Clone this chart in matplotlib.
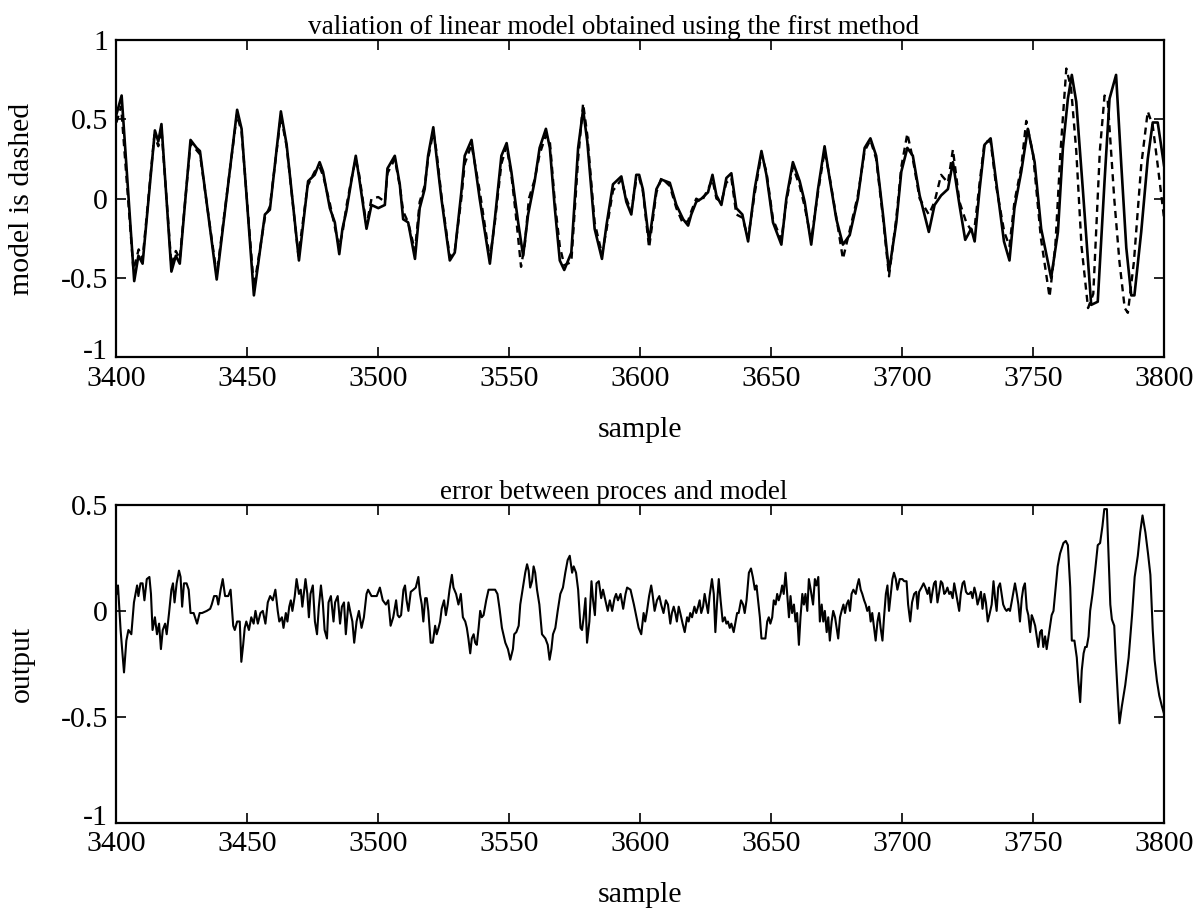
import matplotlib
matplotlib.use("Agg")
import matplotlib.pyplot as plt
import matplotlib.transforms as mtrans

plt.rcParams['font.family'] = ['Liberation Serif', 'DejaVu Serif']
plt.rcParams['axes.unicode_minus'] = False

# process output (solid)
proc_x = [3400.0, 3402.0, 3406.8, 3408.4, 3410.0, 3414.7, 3416.0, 3417.2, 3421.0, 3422.7,
          3424.2, 3428.3, 3430.6, 3431.9, 3438.3, 3446.1, 3447.8, 3452.5, 3456.7, 3458.6,
          3462.8, 3465.0, 3469.7, 3473.2, 3475.7, 3477.6, 3478.9, 3481.5, 3483.4, 3485.1,
          3486.3, 3487.8, 3489.7, 3491.4, 3492.7, 3495.5, 3497.4, 3500.0, 3502.5, 3503.5,
          3506.3, 3508.2, 3509.5, 3511.4, 3514.0, 3515.8, 3517.7, 3519.0, 3521.0, 3522.2,
          3524.1, 3527.3, 3529.2, 3531.7, 3533.0, 3535.6, 3538.7, 3542.6, 3544.5, 3547.0,
          3549.0, 3550.8, 3553.4, 3555.3, 3557.2, 3559.7, 3561.6, 3564.0, 3565.5, 3567.4,
          3569.3, 3571.0, 3573.7, 3576.3, 3578.2, 3579.8, 3582.6, 3585.4, 3587.1, 3589.6,
          3592.8, 3594.7, 3596.6, 3598.5, 3599.6, 3601.0, 3603.4, 3606.2, 3608.1, 3611.3,
          3613.8, 3616.4, 3618.3, 3619.5, 3621.4, 3623.4, 3625.9, 3627.6, 3629.1, 3631.0,
          3632.9, 3634.8, 3636.7, 3639.0, 3641.2, 3643.7, 3646.3, 3648.2, 3650.7, 3653.9,
          3655.8, 3658.3, 3660.9, 3662.8, 3665.3, 3667.9, 3670.4, 3672.3, 3674.9, 3677.4,
          3680.0, 3683.1, 3685.7, 3687.9, 3690.1, 3692.7, 3695.0, 3697.8, 3699.7, 3702.0,
          3704.1, 3706.7, 3710.2, 3712.4, 3714.9, 3717.5, 3719.4, 3721.9, 3724.1, 3726.4,
          3727.7, 3729.6, 3731.5, 3733.8, 3735.9, 3738.9, 3741.0, 3742.9, 3745.5, 3748.0,
          3750.6, 3753.1, 3756.9, 3759.5, 3761.4, 3763.3, 3764.8, 3766.5, 3769.0, 3772.2,
          3774.7, 3777.3, 3779.2, 3781.7, 3783.7, 3785.6, 3787.5, 3788.7, 3791.3, 3793.8,
          3795.7, 3797.6, 3800.0]
proc_y = [0.53, 0.65, -0.52, -0.36, -0.41, 0.43, 0.36, 0.47, -0.46, -0.36,
          -0.41, 0.37, 0.32, 0.30, -0.51, 0.56, 0.44, -0.61, -0.10, -0.07,
          0.55, 0.34, -0.39, 0.11, 0.15, 0.23, 0.17, -0.06, -0.15, -0.35,
          -0.19, -0.08, 0.11, 0.27, 0.13, -0.19, -0.04, -0.06, -0.04, 0.19,
          0.27, 0.09, -0.13, -0.15, -0.38, -0.06, 0.06, 0.27, 0.45, 0.27,
          0.00, -0.39, -0.34, 0.04, 0.27, 0.37, 0.00, -0.41, -0.13, 0.27,
          0.35, 0.17, -0.15, -0.36, -0.10, 0.11, 0.32, 0.44, 0.32, -0.06,
          -0.39, -0.45, -0.34, 0.32, 0.56, 0.36, -0.19, -0.38, -0.17, 0.09,
          0.14, -0.02, -0.10, 0.15, 0.15, 0.06, -0.27, 0.06, 0.12, 0.10,
          -0.04, -0.13, -0.17, -0.10, -0.02, 0.00, 0.04, 0.15, 0.02, -0.04,
          0.13, 0.16, -0.06, -0.10, -0.27, 0.06, 0.30, 0.15, -0.15, -0.29,
          0.00, 0.23, 0.11, -0.02, -0.29, 0.06, 0.33, 0.13, -0.13, -0.29,
          -0.23, 0.00, 0.32, 0.38, 0.27, -0.10, -0.46, -0.15, 0.17, 0.32,
          0.27, 0.02, -0.21, -0.04, 0.02, 0.06, 0.23, -0.04, -0.26, -0.19,
          -0.27, 0.06, 0.34, 0.38, 0.11, -0.27, -0.39, -0.06, 0.17, 0.44,
          0.23, -0.19, -0.50, -0.21, 0.32, 0.63, 0.78, 0.61, 0.06, -0.67,
          -0.65, 0.11, 0.63, 0.78, 0.21, -0.31, -0.61, -0.61, -0.21, 0.25,
          0.48, 0.48, 0.21]

# linear model output (dashed)
model_x = [3400.0, 3401.8, 3406.5, 3408.5, 3410.0, 3414.5, 3416.0, 3417.2, 3421.0, 3422.7,
           3424.2, 3428.3, 3431.9, 3438.3, 3446.0, 3447.8, 3452.5, 3456.7, 3458.6, 3462.8,
           3465.0, 3469.5, 3473.0, 3475.7, 3477.6, 3479.0, 3481.5, 3483.4, 3485.0, 3486.3,
           3487.8, 3489.7, 3491.4, 3492.7, 3495.5, 3497.4, 3500.0, 3502.5, 3503.5, 3506.3,
           3508.2, 3509.5, 3511.4, 3514.0, 3515.8, 3517.7, 3519.0, 3521.0, 3522.2, 3524.1,
           3527.3, 3529.2, 3531.7, 3533.0, 3535.6, 3538.7, 3542.6, 3544.5, 3547.0, 3549.0,
           3550.8, 3552.5, 3554.5, 3556.0, 3557.5, 3559.7, 3561.6, 3564.0, 3565.5, 3567.4,
           3569.3, 3571.0, 3573.7, 3576.3, 3578.2, 3579.8, 3582.6, 3585.4, 3587.1, 3589.6,
           3592.8, 3594.7, 3596.6, 3598.5, 3599.6, 3601.0, 3603.4, 3606.2, 3608.1, 3611.3,
           3613.8, 3616.4, 3618.3, 3619.5, 3621.4, 3623.4, 3625.9, 3627.6, 3629.1, 3631.0,
           3632.9, 3634.8, 3636.7, 3639.0, 3641.2, 3643.7, 3646.3, 3648.2, 3650.7, 3653.9,
           3655.8, 3658.3, 3660.9, 3662.8, 3665.3, 3667.9, 3670.4, 3672.3, 3674.9, 3677.4,
           3680.0, 3683.1, 3685.7, 3687.9, 3690.1, 3692.7, 3695.0, 3697.8, 3699.7, 3702.0,
           3704.1, 3706.7, 3710.2, 3712.4, 3714.9, 3717.5, 3719.4, 3721.9, 3724.5, 3726.4,
           3727.7, 3729.6, 3731.5, 3733.8, 3735.9, 3739.0, 3741.0, 3742.9, 3745.5, 3747.4,
           3750.0, 3753.0, 3756.3, 3758.5, 3760.5, 3762.7, 3764.5, 3766.5, 3768.5, 3771.0,
           3773.0, 3775.5, 3777.3, 3778.5, 3781.0, 3783.0, 3785.0, 3786.2, 3788.5, 3791.3,
           3793.8, 3795.7, 3797.6, 3800.0]
model_y = [0.48, 0.58, -0.45, -0.32, -0.38, 0.40, 0.33, 0.44, -0.42, -0.33,
           -0.38, 0.35, 0.28, -0.48, 0.53, 0.42, -0.56, -0.12, -0.05, 0.52,
           0.33, -0.36, 0.08, 0.17, 0.20, 0.14, -0.03, -0.18, -0.30, -0.22,
           -0.05, 0.12, 0.25, 0.15, -0.17, 0.00, 0.01, -0.02, 0.16, 0.25,
           0.08, -0.08, -0.15, -0.33, -0.02, 0.08, 0.25, 0.42, 0.30, 0.02,
           -0.37, -0.33, 0.00, 0.22, 0.34, 0.05, -0.38, -0.15, 0.22, 0.33,
           0.15, -0.10, -0.43, -0.28, 0.00, 0.12, 0.28, 0.40, 0.36, -0.02,
           -0.30, -0.42, -0.40, 0.25, 0.60, 0.40, -0.15, -0.35, -0.20, 0.05,
           0.12, 0.00, -0.08, 0.12, 0.13, 0.05, -0.31, 0.04, 0.13, 0.08,
           -0.06, -0.16, -0.14, -0.08, 0.00, -0.02, 0.06, 0.12, 0.00, -0.02,
           0.10, 0.13, -0.10, -0.12, -0.25, 0.03, 0.28, 0.17, -0.13, -0.26,
           -0.02, 0.20, 0.08, -0.05, -0.26, 0.04, 0.30, 0.14, -0.12, -0.38,
           -0.20, 0.02, 0.30, 0.37, 0.25, -0.12, -0.49, -0.12, 0.20, 0.41,
           0.25, 0.00, -0.10, -0.02, 0.15, 0.10, 0.31, -0.02, -0.15, -0.20,
           -0.18, 0.10, 0.36, 0.36, 0.08, -0.21, -0.30, -0.02, 0.20, 0.49,
           0.28, -0.25, -0.62, -0.30, 0.30, 0.82, 0.70, 0.30, -0.30, -0.69,
           -0.60, 0.30, 0.65, 0.62, 0.00, -0.40, -0.69, -0.72, -0.40, 0.21,
           0.55, 0.46, 0.21, -0.12]

# error between process and model
err_x = [3400.0, 3400.6, 3401.6, 3402.9, 3403.8, 3404.6, 3405.7, 3406.7, 3407.3, 3407.9,
         3408.4, 3409.2, 3410.0, 3410.7, 3411.6, 3412.6, 3413.2, 3413.8, 3414.7, 3415.5,
         3416.3, 3417.0, 3417.7, 3418.6, 3419.2, 3420.1, 3421.0, 3421.6, 3422.2, 3423.0,
         3423.9, 3424.5, 3425.1, 3425.8, 3426.8, 3427.6, 3428.3, 3429.5, 3430.8, 3431.8,
         3432.7, 3434.5, 3435.8, 3436.4, 3437.3, 3438.3, 3438.9, 3439.8, 3440.6, 3441.5,
         3442.7, 3443.6, 3444.6, 3445.2, 3446.1, 3447.1, 3447.7, 3448.4, 3449.0, 3449.6,
         3450.6, 3451.5, 3452.4, 3453.1, 3454.0, 3455.0, 3455.9, 3456.9, 3457.8, 3458.7,
         3459.7, 3460.7, 3461.6, 3462.2, 3463.2, 3463.8, 3464.7, 3465.3, 3466.0, 3466.6,
         3467.2, 3468.1, 3468.8, 3469.7, 3470.4, 3471.0, 3472.2, 3472.9, 3473.5, 3474.1,
         3475.0, 3475.8, 3476.6, 3477.3, 3478.1, 3478.8, 3479.5, 3480.4, 3481.0, 3481.9,
         3482.9, 3483.5, 3484.5, 3485.4, 3486.1, 3486.9, 3487.6, 3488.6, 3489.4, 3490.1,
         3490.8, 3491.7, 3492.6, 3493.6, 3494.5, 3495.5, 3496.1, 3497.4, 3499.4, 3500.6,
         3501.7, 3502.9, 3503.8, 3504.7, 3505.7, 3506.8, 3507.4, 3508.0, 3508.7, 3509.6,
         3510.2, 3510.8, 3511.5, 3512.4, 3513.4, 3514.3, 3515.3, 3515.9, 3516.6, 3517.2,
         3517.9, 3518.5, 3519.1, 3520.0, 3520.8, 3521.7, 3522.3, 3523.0, 3523.6, 3524.2,
         3525.1, 3525.8, 3526.5, 3527.2, 3528.1, 3528.7, 3529.7, 3530.6, 3531.5, 3532.3,
         3533.2, 3533.8, 3534.4, 3535.1, 3535.7, 3536.4, 3537.0, 3537.6, 3538.3, 3538.9,
         3539.5, 3540.2, 3541.2, 3542.1, 3543.4, 3544.6, 3545.5, 3546.3, 3547.2, 3548.5,
         3549.5, 3550.4, 3551.4, 3551.9, 3552.7, 3553.6, 3554.2, 3555.2, 3556.1, 3556.8,
         3557.4, 3558.0, 3558.7, 3559.3, 3559.9, 3560.6, 3561.5, 3562.5, 3563.8, 3564.7,
         3565.4, 3566.1, 3566.7, 3567.6, 3568.5, 3569.5, 3570.5, 3571.4, 3572.3, 3573.1,
         3574.0, 3574.6, 3575.5, 3576.3, 3577.2, 3577.8, 3578.4, 3579.1, 3579.7, 3580.6,
         3581.4, 3582.0, 3582.7, 3583.3, 3584.2, 3585.1, 3585.8, 3586.7, 3587.6, 3588.4,
         3589.3, 3590.2, 3590.8, 3591.5, 3592.5, 3593.5, 3594.4, 3595.0, 3596.3, 3597.6,
         3598.6, 3599.4, 3600.4, 3601.3, 3601.9, 3602.6, 3603.4, 3604.2, 3604.7, 3605.5,
         3606.4, 3607.3, 3608.0, 3608.9, 3609.8, 3610.6, 3611.5, 3612.1, 3612.8, 3613.4,
         3614.0, 3614.7, 3615.3, 3616.2, 3617.0, 3617.9, 3618.5, 3619.1, 3619.8, 3620.7,
         3621.4, 3622.1, 3622.7, 3623.3, 3624.0, 3624.6, 3625.3, 3625.9, 3626.5, 3627.4,
         3628.1, 3628.7, 3629.3, 3630.0, 3630.7, 3631.5, 3632.3, 3632.9, 3633.5, 3634.2,
         3634.8, 3635.7, 3636.4, 3637.0, 3637.6, 3638.5, 3639.3, 3639.9, 3640.6, 3641.5,
         3642.3, 3643.0, 3643.8, 3644.4, 3645.0, 3645.7, 3646.3, 3647.2, 3647.8, 3648.5,
         3649.1, 3649.7, 3650.4, 3651.0, 3651.7, 3652.3, 3652.9, 3653.6, 3654.2, 3654.8,
         3655.5, 3656.1, 3656.8, 3657.4, 3658.0, 3658.7, 3659.3, 3659.9, 3660.6, 3661.2,
         3661.9, 3662.5, 3663.1, 3663.8, 3664.4, 3665.1, 3666.0, 3666.7, 3667.3, 3668.0,
         3668.6, 3669.3, 3669.9, 3670.5, 3671.2, 3671.8, 3672.4, 3673.1, 3673.7, 3674.4,
         3675.0, 3675.6, 3676.3, 3676.9, 3677.6, 3678.2, 3678.8, 3679.5, 3680.1, 3680.7,
         3681.4, 3682.3, 3682.9, 3683.5, 3684.2, 3684.8, 3685.5, 3686.1, 3686.7, 3687.4,
         3688.0, 3688.6, 3689.3, 3689.9, 3690.6, 3691.2, 3691.8, 3692.5, 3693.1, 3693.8,
         3694.4, 3695.0, 3695.7, 3696.3, 3696.9, 3697.6, 3698.2, 3699.1, 3700.1, 3700.8,
         3701.7, 3702.3, 3703.1, 3703.8, 3704.6, 3705.4, 3705.9, 3706.5, 3707.4, 3708.2,
         3708.9, 3709.7, 3710.3, 3711.0, 3711.6, 3712.2, 3712.8, 3713.5, 3714.2, 3714.8,
         3715.4, 3716.1, 3716.7, 3717.3, 3718.0, 3718.6, 3719.3, 3719.9, 3720.5, 3721.2,
         3721.8, 3722.4, 3723.1, 3723.7, 3724.4, 3725.0, 3725.6, 3726.3, 3726.9, 3727.6,
         3728.2, 3728.8, 3729.5, 3730.1, 3730.7, 3731.4, 3732.0, 3732.7, 3733.3, 3734.2,
         3734.9, 3735.5, 3736.1, 3736.7, 3737.4, 3738.0, 3738.6, 3739.3, 3739.9, 3740.6,
         3741.2, 3741.8, 3742.5, 3743.1, 3743.8, 3744.4, 3745.0, 3745.7, 3746.3, 3746.9,
         3747.6, 3748.2, 3748.9, 3749.5, 3750.1, 3750.8, 3751.4, 3752.0, 3752.7, 3753.3,
         3753.9, 3754.6, 3755.2, 3755.9, 3756.5, 3757.1, 3757.8, 3758.4, 3759.4, 3760.3,
         3761.6, 3762.5, 3763.3, 3764.2, 3764.8, 3765.8, 3766.7, 3767.3, 3768.0, 3768.6,
         3769.3, 3769.9, 3770.5, 3771.2, 3771.8, 3772.7, 3773.7, 3774.7, 3775.6, 3776.5,
         3777.2, 3778.2, 3778.8, 3779.5, 3780.1, 3781.0, 3781.6, 3782.4, 3783.0, 3783.9,
         3785.2, 3786.5, 3787.8, 3788.8, 3790.0, 3790.9, 3791.8, 3792.9, 3793.9, 3794.8,
         3795.7, 3796.4, 3797.3, 3798.2, 3799.2, 3799.9]
err_y = [0.08, 0.12, -0.09, -0.29, -0.14, -0.09, -0.11, 0.04, 0.08, 0.12,
         0.07, 0.13, 0.13, 0.05, 0.15, 0.16, 0.08, -0.09, -0.03, -0.11,
         -0.06, -0.18, -0.09, -0.06, -0.11, -0.01, 0.10, 0.13, 0.04, 0.13,
         0.19, 0.16, 0.02, 0.13, 0.13, 0.10, -0.01, -0.01, -0.06, -0.01,
         -0.01, 0.00, 0.01, 0.03, 0.07, 0.07, 0.03, 0.10, 0.15, 0.07,
         0.07, 0.10, -0.07, -0.09, -0.05, -0.05, -0.24, -0.16, -0.08, -0.05,
         -0.09, -0.03, -0.06, 0.00, -0.06, -0.01, 0.00, -0.06, 0.04, 0.07,
         0.05, 0.10, 0.00, -0.05, -0.03, -0.08, -0.01, -0.05, 0.02, 0.05,
         0.00, 0.07, 0.15, 0.08, 0.10, 0.02, 0.15, 0.08, -0.03, 0.08,
         0.12, -0.05, -0.11, 0.02, 0.12, 0.04, -0.09, -0.13, 0.04, 0.07,
         -0.05, 0.04, 0.07, -0.06, 0.02, 0.04, -0.11, 0.04, -0.01, -0.05,
         -0.15, -0.05, 0.00, -0.08, -0.03, 0.08, 0.10, 0.07, 0.07, 0.11,
         0.05, 0.03, 0.05, -0.07, -0.03, 0.05, -0.02, -0.03, -0.02, 0.10,
         0.12, 0.05, 0.00, 0.09, 0.10, 0.11, 0.16, 0.08, 0.03, -0.05,
         0.06, 0.06, 0.00, -0.15, -0.15, -0.07, -0.11, -0.08, -0.05, 0.01,
         0.05, -0.02, 0.03, 0.10, 0.17, 0.11, 0.08, 0.03, 0.08, -0.03,
         -0.05, -0.08, -0.13, -0.20, -0.13, -0.11, -0.15, -0.16, -0.08, 0.00,
         -0.03, -0.02, 0.05, 0.10, 0.10, 0.10, 0.08, 0.01, -0.08, -0.15,
         -0.18, -0.23, -0.18, -0.11, -0.10, -0.07, 0.03, 0.11, 0.18, 0.22,
         0.19, 0.11, 0.14, 0.21, 0.18, 0.10, 0.03, -0.11, -0.13, -0.16,
         -0.23, -0.18, -0.11, -0.08, 0.00, 0.08, 0.11, 0.18, 0.24, 0.26,
         0.18, 0.21, 0.18, 0.10, -0.08, -0.09, -0.03, 0.06, -0.15, -0.05,
         0.14, 0.05, -0.02, 0.13, 0.14, 0.06, 0.10, 0.05, 0.00, 0.05,
         0.00, 0.06, 0.08, 0.05, 0.08, 0.01, 0.08, 0.11, 0.10, 0.03,
         -0.03, -0.08, -0.11, -0.01, -0.05, 0.00, 0.07, 0.12, 0.08, 0.00,
         0.05, 0.07, 0.03, -0.01, 0.05, 0.03, -0.06, -0.01, 0.02, -0.01,
         -0.05, 0.02, -0.01, -0.06, -0.10, -0.03, -0.05, -0.01, -0.03, 0.02,
         -0.01, 0.02, 0.05, -0.01, 0.02, 0.08, 0.03, -0.01, 0.07, 0.15,
         0.08, -0.10, 0.03, 0.15, 0.05, -0.05, -0.03, -0.06, -0.05, -0.08,
         -0.06, -0.10, -0.05, -0.01, -0.01, 0.05, 0.03, -0.01, 0.05, 0.18,
         0.20, 0.16, 0.10, 0.12, 0.05, -0.03, -0.13, -0.13, -0.13, -0.05,
         -0.03, -0.06, -0.03, 0.05, 0.03, 0.08, 0.05, 0.08, 0.12, 0.08,
         0.18, 0.08, -0.03, 0.07, -0.01, 0.03, -0.05, -0.01, -0.16, -0.03,
         0.08, 0.03, 0.08, 0.00, 0.15, 0.10, 0.03, 0.15, 0.12, 0.16,
         -0.05, 0.03, -0.05, 0.00, -0.10, -0.03, -0.14, -0.05, 0.00, -0.03,
         -0.08, -0.13, -0.03, 0.00, 0.03, -0.01, 0.03, 0.05, 0.00, 0.08,
         0.10, 0.08, 0.12, 0.15, 0.10, 0.08, 0.05, 0.03, 0.00, 0.02,
         -0.05, -0.01, -0.08, -0.14, -0.05, -0.01, -0.08, -0.14, -0.03, 0.08,
         0.12, 0.00, 0.08, 0.15, 0.18, 0.15, 0.10, 0.15, 0.15, 0.14,
         0.14, 0.03, -0.05, 0.04, 0.08, 0.09, 0.01, 0.09, 0.11, 0.13,
         0.11, 0.08, 0.11, 0.04, 0.09, 0.13, 0.14, 0.04, 0.09, 0.14,
         0.13, 0.08, 0.09, 0.11, 0.08, 0.09, 0.06, 0.13, 0.09, 0.04,
         0.00, 0.08, 0.13, 0.14, 0.09, 0.08, 0.08, 0.09, 0.06, 0.11,
         0.08, 0.03, 0.06, 0.09, 0.01, 0.08, 0.04, -0.05, -0.02, 0.03,
         0.14, 0.06, 0.00, 0.11, 0.13, 0.08, 0.03, 0.01, 0.00, 0.01,
         0.00, 0.04, 0.09, 0.13, 0.08, 0.03, -0.05, 0.06, 0.11, 0.13,
         0.01, -0.02, -0.10, -0.02, -0.04, -0.07, -0.12, -0.17, -0.10, -0.09,
         -0.17, -0.12, -0.18, -0.12, -0.07, -0.02, 0.00, 0.08, 0.21, 0.27,
         0.32, 0.33, 0.31, 0.11, -0.14, -0.14, -0.22, -0.33, -0.43, -0.28,
         -0.20, -0.17, -0.17, -0.12, 0.00, 0.08, 0.19, 0.31, 0.32, 0.40,
         0.48, 0.48, 0.27, 0.03, -0.04, -0.07, -0.23, -0.41, -0.53, -0.45,
         -0.35, -0.22, -0.02, 0.16, 0.26, 0.37, 0.45, 0.37, 0.27, 0.17,
         -0.09, -0.23, -0.33, -0.40, -0.45, -0.48]

x_ticks = [3400, 3450, 3500, 3550, 3600, 3650, 3700, 3750, 3800]
top_yticks = [-1, -0.5, 0, 0.5, 1]
top_ylabels = ['-1', '-0.5', '0', '0.5', '1']
bot_yticks = [-1, -0.5, 0, 0.5]
bot_ylabels = ['-1', '-0.5', '0', '0.5']

fs = 21.5
fig = plt.figure(figsize=(12, 9.09), dpi=100)
ax1 = fig.add_axes([0.097, 0.607, 0.873, 0.349])
ax2 = fig.add_axes([0.097, 0.0946, 0.873, 0.350])

ax1.plot(proc_x, proc_y, color='black', lw=1.9)
ax1.plot(model_x, model_y, color='black', lw=1.7, dashes=(3, 2.2))
ax2.plot(err_x, err_y, color='black', lw=1.5)

for ax in (ax1, ax2):
    ax.set_xlim(3400, 3800)
    ax.set_xticks(x_ticks)
    ax.set_xticklabels([str(t) for t in x_ticks])
    ax.tick_params(direction='in', top=True, right=True, length=7, width=1.2,
                   labelsize=fs, pad=6, colors='black')
    for sp in ax.spines.values():
        sp.set_linewidth(1.6)
    ax.set_xlabel('sample', fontsize=fs, labelpad=18)

ax1.set_ylim(-1, 1)
ax1.set_yticks(top_yticks)
ax1.set_yticklabels(top_ylabels)
ax2.set_ylim(-1, 0.5)
ax2.set_yticks(bot_yticks)
ax2.set_yticklabels(bot_ylabels)

# nudge the lowest y label up a little so it clears the first x label
lift = mtrans.ScaledTranslation(0, 6 / 72, fig.dpi_scale_trans)
for ax in (ax1, ax2):
    lab = ax.yaxis.get_major_ticks()[0].label1
    lab.set_transform(lab.get_transform() + lift)

ax1.set_ylabel('model is dashed', fontsize=fs)
ax2.set_ylabel('output', fontsize=fs)
ax1.yaxis.set_label_coords(-0.078, 0.5)
ax2.yaxis.set_label_coords(-0.078, 0.5)

ax1.set_title('valiation of linear model obtained using the first method',
              fontsize=19.5, pad=4, x=0.475)
ax2.set_title('error between proces and model', fontsize=19.5, pad=4, x=0.475)

fig.savefig('out.png', dpi=100, facecolor='white')
